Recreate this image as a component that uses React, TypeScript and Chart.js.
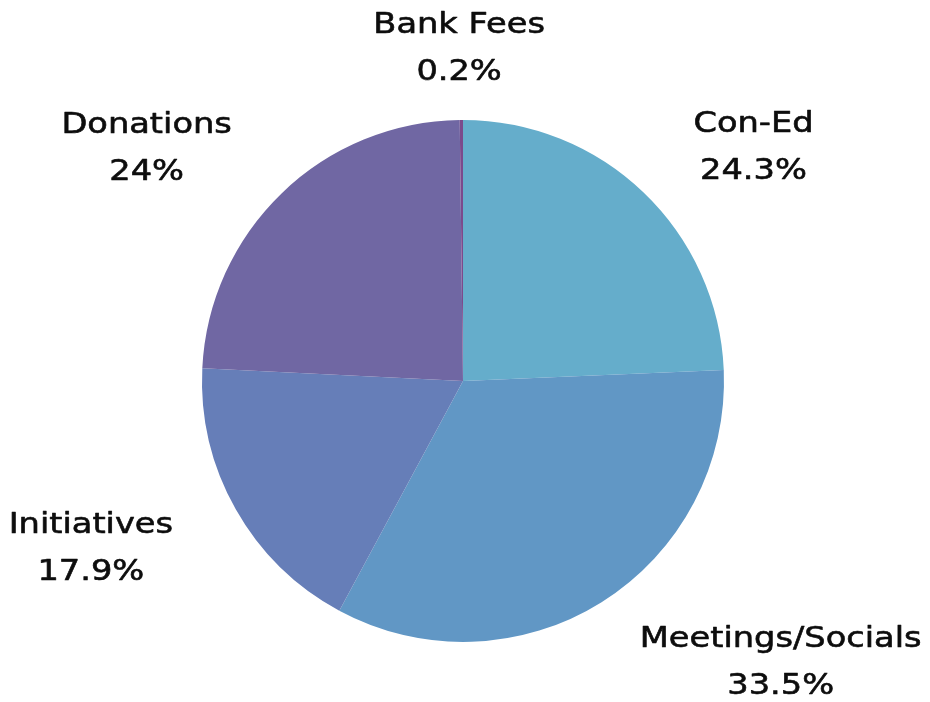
import React, { useEffect, useRef } from "react";
import { Chart, registerables } from "chart.js";

Chart.register(...registerables);

const categories = ["Con-Ed", "Meetings/Socials", "Initiatives", "Donations", "Bank Fees"];
const percentLabels = ["24.3%", "33.5%", "17.9%", "24%", "0.2%"];
const values = [24.3, 33.5, 17.9, 24.0, 0.2];
const colors = ["#65ADCB", "#6197C5", "#667EB8", "#7067A3", "#7B4A8C"];

const FONT = "29px 'DejaVu Sans'";
const X_SCALE = 1.16;
const LINE_H = 47;

const labelPlugin = {
  id: "outsideLabels",
  afterDatasetsDraw(chart: any) {
    const ctx = chart.ctx;
    const meta = chart.getDatasetMeta(0);
    ctx.save();
    ctx.font = FONT;
    ctx.fillStyle = "#0d0d0d";
    ctx.strokeStyle = "#0d0d0d";
    ctx.lineWidth = 0.6;
    ctx.lineJoin = "round";
    ctx.textAlign = "center";
    ctx.textBaseline = "middle";
    meta.data.forEach((arc: any, i: number) => {
      const { x, y, startAngle, endAngle, outerRadius } = arc.getProps(
        ["x", "y", "startAngle", "endAngle", "outerRadius"],
        true
      );
      const mid = (startAngle + endAngle) / 2;
      // angle measured from top, clockwise
      const s = Math.cos(mid);
      const c = -Math.sin(mid);
      const rx = outerRadius + 72;
      const ry = outerRadius - 68 + 95 * Math.abs(c);
      const px = x + rx * s;
      const py = y - ry * c;
      const lines = [categories[i], percentLabels[i]];
      const w = Math.max(...lines.map((l) => ctx.measureText(l).width)) * X_SCALE;
      const h = LINE_H * 2;
      const clamp = (v: number) => Math.max(-1, Math.min(1, v));
      const cx = px + (w / 2) * clamp(s / 0.3);
      const cy = py - (h / 2) * clamp(c / 0.3) + 3;
      lines.forEach((l, k) => {
        const ly = cy + (k === 0 ? -LINE_H / 2 : LINE_H / 2);
        ctx.save();
        ctx.translate(cx, ly);
        ctx.scale(X_SCALE, 1);
        ctx.fillText(l, 0, 0);
        ctx.strokeText(l, 0, 0);
        ctx.restore();
      });
    });
    ctx.restore();
  },
};

export default function App() {
  const ref = useRef<HTMLCanvasElement>(null);
  useEffect(() => {
    document.body.style.margin = "0";
    const chart = new Chart(ref.current!, {
      type: "pie",
      data: {
        labels: categories,
        datasets: [
          {
            data: values,
            backgroundColor: colors,
            borderWidth: 0,
          },
        ],
      },
      options: {
        responsive: false,
        animation: false,
        layout: { padding: { top: 120, bottom: 60, left: 163, right: 167 } },
        plugins: {
          legend: { display: false },
          tooltip: { enabled: false },
        },
      },
      plugins: [labelPlugin],
    });
    return () => chart.destroy();
  }, []);
  return (
    <div style={{ width: 930, height: 702, background: "#ffffff" }}>
      <canvas ref={ref} width={930} height={702} style={{ width: 930, height: 702 }} />
    </div>
  );
}
